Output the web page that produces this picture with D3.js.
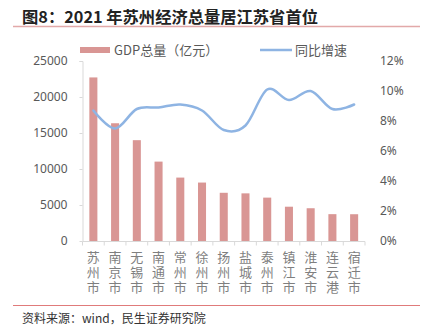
<!DOCTYPE html>
<html><head><meta charset="utf-8">
<script src="https://cdn.jsdelivr.net/npm/d3@7"></script>
<style>
html,body{margin:0;padding:0;background:#fff;}
svg{display:block;font-family:"Noto Sans CJK SC","Noto Sans",sans-serif;}
</style></head>
<body><svg id="c" width="429" height="336"></svg>
<script>
const categories = ["苏州市","南京市","无锡市","南通市","常州市","徐州市","扬州市","盐城市","泰州市","镇江市","淮安市","连云港","宿迁市"];
const gdp = [22718,16355,14003,11027,8808,8117,6696,6617,6025,4763,4550,3728,3719];
const growth = [8.7,7.5,8.8,8.9,9.1,8.7,7.4,7.7,10.1,9.4,10.0,8.8,9.1];
const leftTicks = [0,5000,10000,15000,20000,25000];
const rightTicks = [0,2,4,6,8,10,12];

const svg = d3.select("#c");
const x0 = 82.5, x1 = 365, yTop = 61, yBot = 241;
const x = d3.scaleBand().domain(categories).range([x0, x1]).paddingInner(0.63).paddingOuter(0.315);
const xb = d3.scaleBand().domain(categories).range([x0, x1]);
const yL = d3.scaleLinear().domain([0,25000]).range([yBot, yTop]);
const yR = d3.scaleLinear().domain([0,12]).range([yBot, yTop]);

// title
svg.append("text").attr("x",22).attr("y",23).attr("font-size",16.3).attr("font-weight","bold").attr("fill","#222")
  .text("图8：2021 年苏州经济总量居江苏省首位");
svg.append("line").attr("x1",13).attr("x2",420).attr("y1",26.5).attr("y2",26.5).attr("stroke","#e2a9a9").attr("stroke-width",1.3);

// legend
svg.append("rect").attr("x",80).attr("y",47).attr("width",30).attr("height",6).attr("fill","#d99694");
svg.append("text").attr("x",114).attr("y",55).attr("font-size",13).attr("fill","#595959").text("GDP总量（亿元）");
svg.append("line").attr("x1",260).attr("x2",292).attr("y1",50).attr("y2",50).attr("stroke","#8eb4e3").attr("stroke-width",2.5);
svg.append("text").attr("x",295).attr("y",55).attr("font-size",13).attr("fill","#595959").text("同比增速");

// bars
svg.append("g").selectAll("rect").data(categories).join("rect")
  .attr("x", d => x(d)).attr("width", x.bandwidth())
  .attr("y", (d,i) => yL(gdp[i])).attr("height", (d,i) => yBot - yL(gdp[i]))
  .attr("fill","#d99694");

// left axis
const gl = svg.append("g").attr("transform",`translate(${x0},0)`)
  .call(d3.axisLeft(yL).tickValues(leftTicks).tickSize(3).tickPadding(12).tickFormat(d3.format("d")));
gl.select(".domain").attr("stroke","#d9d9d9").attr("d",`M-3,${yTop+0.5}H0.5V${yBot}`);
gl.selectAll(".tick line").attr("stroke","#d9d9d9");
gl.selectAll("text").attr("font-size",12).attr("fill","#595959").attr("font-family","'Noto Sans','Noto Sans CJK SC',sans-serif");

// right axis labels
const gr = svg.append("g").attr("transform",`translate(${x1},0)`)
  .call(d3.axisRight(yR).tickValues(rightTicks).tickSize(0).tickPadding(15).tickFormat(d => d + "%"));
gr.select(".domain").remove();
gr.selectAll("text").attr("font-size",12).attr("fill","#595959").attr("font-family","'Noto Sans','Noto Sans CJK SC',sans-serif");

// bottom axis
const gb = svg.append("g").attr("transform",`translate(0,${yBot+0.5})`);
gb.append("line").attr("x1",x0).attr("x2",x1).attr("stroke","#d9d9d9");
const bounds = categories.map(c => xb(c)).concat([x1]);
gb.selectAll("line.t").data(bounds).join("line").attr("class","t")
  .attr("x1",d=>d).attr("x2",d=>d).attr("y1",0).attr("y2",4).attr("stroke","#d9d9d9");

// x labels vertical (stacked upright characters)
svg.append("g").selectAll("text").data(categories).join("text")
  .attr("x", d => xb(d) + xb.bandwidth()/2)
  .attr("y", 251)
  .style("writing-mode","vertical-rl")
  .style("text-orientation","upright")
  .style("letter-spacing","2px")
  .attr("font-size",13).attr("fill","#7f7f7f")
  .text(d => d);

// growth line
const line = d3.line()
  .x((d,i) => xb(categories[i]) + xb.bandwidth()/2)
  .y(d => yR(d))
  .curve(d3.curveCatmullRom.alpha(0));
svg.append("path").datum(growth).attr("d", line).attr("fill","none")
  .attr("stroke","#8eb4e3").attr("stroke-width",2.5).attr("stroke-linecap","round");

// footer
svg.append("line").attr("x1",13).attr("x2",420).attr("y1",305.5).attr("y2",305.5).attr("stroke","#e07b7b").attr("stroke-width",1);
svg.append("text").attr("x",22).attr("y",323).attr("font-size",12).attr("fill","#333").text("资料来源：wind，民生证券研究院");
</script></body></html>
